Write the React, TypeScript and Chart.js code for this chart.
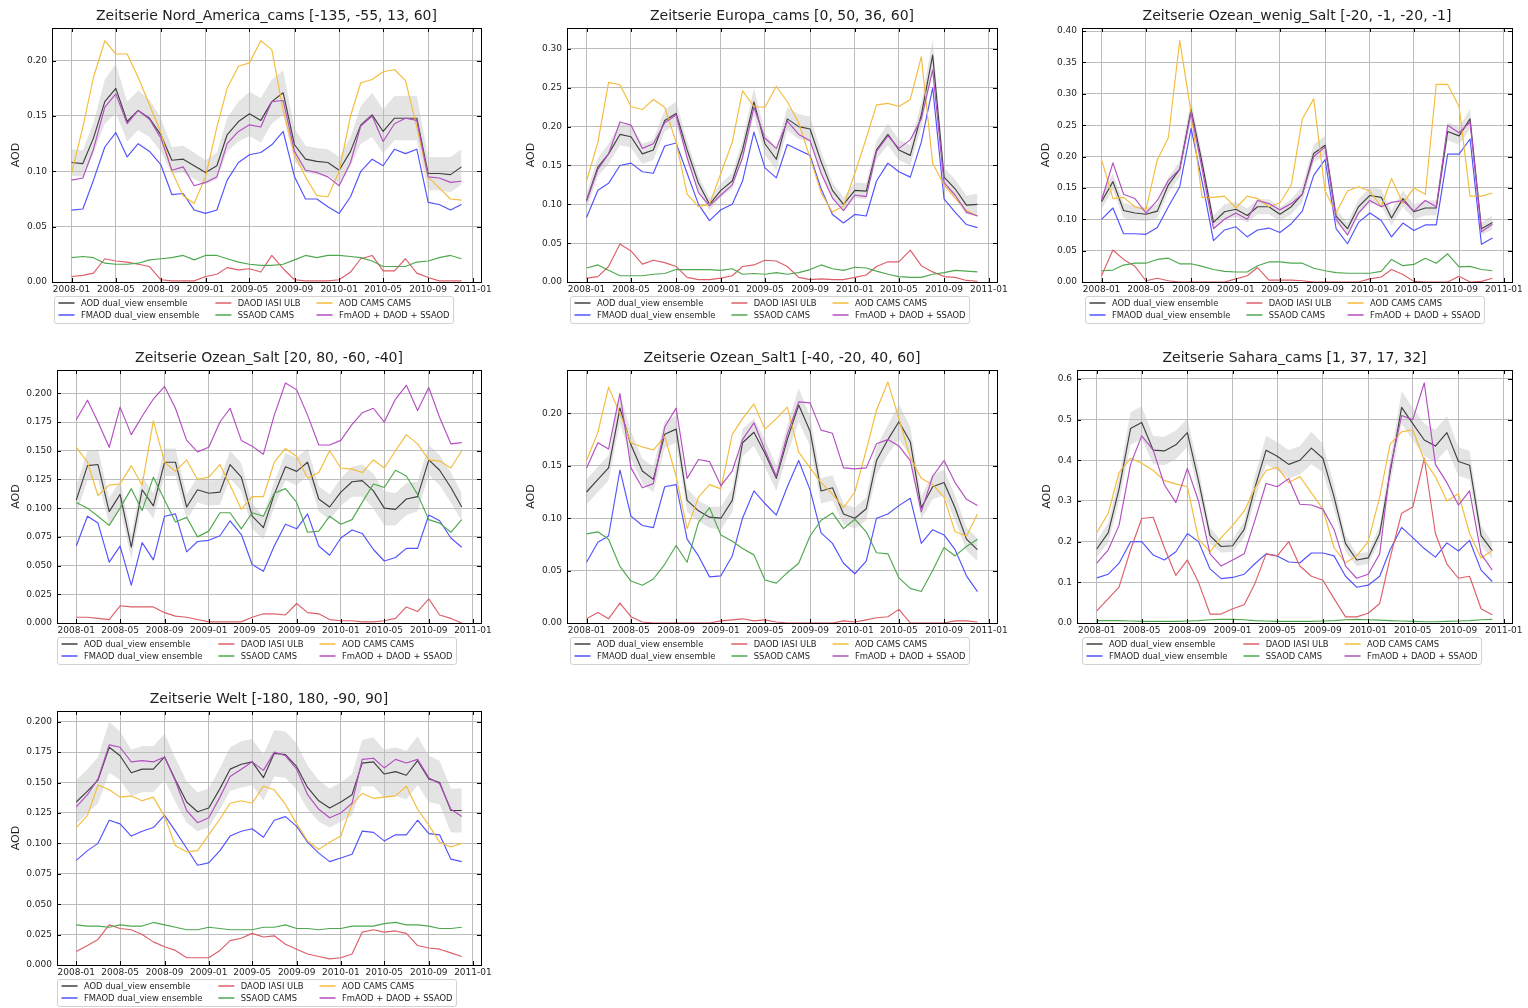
import React, { useEffect, useRef } from "react";
import { Chart, registerables } from "chart.js";

Chart.register(...registerables);
Chart.defaults.font.family = '"DejaVu Sans", sans-serif';

// ---------- categories / tick labels ----------
const months = [
  "2008-01","2008-02","2008-03","2008-04","2008-05","2008-06","2008-07","2008-08","2008-09","2008-10","2008-11","2008-12",
  "2009-01","2009-02","2009-03","2009-04","2009-05","2009-06","2009-07","2009-08","2009-09","2009-10","2009-11","2009-12",
  "2010-01","2010-02","2010-03","2010-04","2010-05","2010-06","2010-07","2010-08","2010-09","2010-10","2010-11","2010-12",
];
const xTickLabels = ["2008-01","2008-05","2008-09","2009-01","2009-05","2009-09","2010-01","2010-05","2010-09","2011-01"];
const seriesLabels = [
  "AOD dual_view ensemble",
  "FMAOD dual_view ensemble",
  "DAOD IASI ULB",
  "SSAOD CAMS",
  "AOD CAMS CAMS",
  "FmAOD + DAOD + SSAOD",
];

// ---------- Nord_America_cams ----------
const naAOD = [0.108,0.107,0.13,0.163,0.175,0.145,0.155,0.148,0.133,0.11,0.111,0.105,0.099,0.105,0.133,0.145,0.152,0.146,0.163,0.171,0.124,0.111,0.109,0.108,0.101,0.118,0.142,0.151,0.136,0.148,0.148,0.148,0.098,0.098,0.097,0.104];
const naFM = [0.065,0.066,0.092,0.122,0.135,0.113,0.125,0.118,0.106,0.079,0.08,0.065,0.062,0.065,0.092,0.108,0.115,0.117,0.124,0.136,0.095,0.075,0.075,0.068,0.062,0.077,0.1,0.111,0.105,0.12,0.116,0.12,0.072,0.07,0.065,0.07];
const naDAOD = [0.005,0.006,0.008,0.021,0.019,0.018,0.016,0.014,0.002,0.001,0.001,0.001,0.005,0.007,0.013,0.011,0.012,0.009,0.024,0.012,0.002,0.001,0.001,0.001,0.002,0.009,0.021,0.024,0.01,0.01,0.021,0.008,0.004,0.001,0.001,0.001];
const naSS = [0.022,0.023,0.022,0.017,0.016,0.016,0.017,0.02,0.021,0.022,0.024,0.02,0.024,0.024,0.021,0.018,0.016,0.015,0.015,0.016,0.02,0.024,0.022,0.024,0.024,0.023,0.022,0.019,0.014,0.014,0.014,0.018,0.019,0.022,0.024,0.021];
const naCAMS = [0.098,0.14,0.185,0.218,0.206,0.206,0.185,0.16,0.135,0.1,0.078,0.071,0.095,0.14,0.175,0.195,0.198,0.218,0.21,0.155,0.115,0.095,0.078,0.077,0.1,0.15,0.18,0.183,0.19,0.192,0.182,0.14,0.095,0.085,0.075,0.074];
const naSUM = [0.092,0.094,0.12,0.158,0.17,0.143,0.155,0.147,0.13,0.101,0.104,0.087,0.09,0.095,0.125,0.136,0.142,0.14,0.163,0.164,0.118,0.101,0.099,0.095,0.087,0.108,0.141,0.15,0.127,0.143,0.148,0.146,0.095,0.094,0.09,0.091];
const naSpread = [0.012,0.012,0.014,0.02,0.022,0.018,0.018,0.017,0.015,0.012,0.012,0.012,0.011,0.012,0.015,0.018,0.02,0.02,0.02,0.02,0.015,0.012,0.012,0.012,0.012,0.013,0.017,0.02,0.02,0.02,0.02,0.02,0.015,0.015,0.016,0.016];

// ---------- Europa_cams ----------
const euAOD = [0.105,0.148,0.165,0.19,0.187,0.165,0.17,0.208,0.217,0.17,0.127,0.1,0.118,0.13,0.17,0.232,0.178,0.158,0.21,0.2,0.197,0.155,0.118,0.1,0.118,0.117,0.17,0.19,0.17,0.163,0.215,0.292,0.135,0.12,0.099,0.1];
const euFM = [0.083,0.118,0.127,0.15,0.153,0.142,0.14,0.175,0.179,0.14,0.1,0.079,0.093,0.1,0.13,0.193,0.147,0.134,0.177,0.17,0.163,0.12,0.087,0.076,0.087,0.085,0.13,0.153,0.142,0.135,0.18,0.25,0.107,0.09,0.074,0.07];
const euDAOD = [0.005,0.007,0.02,0.049,0.04,0.023,0.028,0.025,0.02,0.006,0.003,0.003,0.005,0.008,0.02,0.022,0.028,0.027,0.02,0.006,0.003,0.004,0.003,0.003,0.006,0.009,0.02,0.026,0.026,0.041,0.021,0.013,0.007,0.006,0.002,0.001];
const euSS = [0.018,0.022,0.015,0.008,0.008,0.008,0.01,0.011,0.016,0.016,0.016,0.016,0.015,0.017,0.01,0.011,0.01,0.012,0.01,0.012,0.016,0.022,0.017,0.015,0.019,0.018,0.014,0.01,0.007,0.006,0.006,0.01,0.012,0.015,0.014,0.013];
const euCAMS = [0.13,0.18,0.257,0.254,0.226,0.222,0.235,0.225,0.18,0.113,0.097,0.1,0.14,0.18,0.246,0.226,0.225,0.252,0.232,0.205,0.16,0.115,0.09,0.098,0.14,0.185,0.228,0.23,0.226,0.235,0.29,0.153,0.125,0.108,0.092,0.085];
const euSUM = [0.104,0.145,0.165,0.206,0.202,0.172,0.178,0.205,0.215,0.16,0.115,0.098,0.112,0.125,0.16,0.225,0.185,0.172,0.207,0.19,0.182,0.14,0.108,0.092,0.112,0.11,0.168,0.188,0.172,0.183,0.21,0.273,0.128,0.112,0.09,0.085];
const euSpread = [0.01,0.012,0.013,0.014,0.014,0.013,0.013,0.014,0.015,0.012,0.01,0.008,0.009,0.01,0.012,0.018,0.014,0.014,0.015,0.016,0.016,0.013,0.01,0.009,0.01,0.01,0.012,0.014,0.013,0.013,0.016,0.02,0.012,0.012,0.012,0.014];

// ---------- Ozean_wenig_Salt ----------
const owAOD = [0.128,0.16,0.114,0.11,0.108,0.113,0.155,0.18,0.275,0.19,0.095,0.112,0.116,0.106,0.12,0.12,0.108,0.12,0.14,0.205,0.218,0.105,0.085,0.12,0.138,0.135,0.102,0.133,0.112,0.118,0.118,0.24,0.233,0.26,0.085,0.095];
const owFM = [0.1,0.118,0.077,0.077,0.076,0.087,0.12,0.152,0.245,0.16,0.066,0.083,0.088,0.072,0.083,0.086,0.079,0.093,0.113,0.17,0.195,0.085,0.061,0.095,0.11,0.098,0.072,0.094,0.082,0.091,0.091,0.204,0.204,0.228,0.06,0.07];
const owDAOD = [0.01,0.051,0.036,0.025,0.002,0.006,0.002,0,0,0,0,0,0.005,0.01,0.023,0.003,0.003,0.003,0.002,0,0,0,0,0,0.005,0.008,0.02,0.012,0.001,0,0,0,0.009,0,0.001,0.006];
const owSS = [0.018,0.019,0.027,0.03,0.03,0.036,0.038,0.029,0.029,0.025,0.02,0.017,0.016,0.016,0.026,0.032,0.032,0.03,0.03,0.022,0.018,0.015,0.014,0.014,0.014,0.017,0.036,0.026,0.028,0.038,0.03,0.045,0.024,0.025,0.02,0.018];
const owCAMS = [0.195,0.133,0.135,0.12,0.115,0.195,0.23,0.385,0.27,0.135,0.135,0.137,0.118,0.137,0.133,0.12,0.126,0.155,0.26,0.292,0.145,0.11,0.145,0.152,0.145,0.12,0.165,0.125,0.15,0.14,0.315,0.315,0.28,0.137,0.137,0.142];
const owSUM = [0.13,0.19,0.14,0.133,0.11,0.13,0.162,0.18,0.27,0.18,0.085,0.1,0.11,0.1,0.13,0.125,0.115,0.125,0.14,0.2,0.215,0.1,0.075,0.11,0.13,0.12,0.127,0.13,0.113,0.13,0.12,0.25,0.238,0.255,0.08,0.092];
const owSpread = [0.012,0.013,0.012,0.011,0.011,0.011,0.012,0.013,0.016,0.013,0.011,0.012,0.012,0.011,0.012,0.012,0.011,0.012,0.013,0.014,0.015,0.011,0.01,0.012,0.013,0.013,0.012,0.013,0.012,0.012,0.012,0.014,0.014,0.016,0.01,0.011];

// ---------- Ozean_Salt ----------
const osAOD = [0.107,0.137,0.138,0.097,0.112,0.066,0.116,0.102,0.14,0.14,0.101,0.116,0.113,0.114,0.138,0.127,0.093,0.083,0.112,0.136,0.132,0.14,0.108,0.101,0.114,0.123,0.124,0.115,0.1,0.099,0.108,0.11,0.142,0.133,0.118,0.101];
const osFM = [0.067,0.093,0.087,0.053,0.067,0.033,0.07,0.055,0.093,0.095,0.062,0.071,0.072,0.076,0.089,0.077,0.051,0.045,0.067,0.086,0.082,0.095,0.067,0.059,0.074,0.081,0.078,0.064,0.054,0.057,0.065,0.065,0.094,0.089,0.074,0.066];
const osDAOD = [0.005,0.005,0.004,0.003,0.015,0.014,0.014,0.014,0.009,0.006,0.005,0.003,0.001,0.001,0.001,0.001,0.005,0.008,0.008,0.007,0.017,0.009,0.008,0.003,0.002,0.002,0.001,0.001,0.002,0.004,0.014,0.01,0.021,0.007,0.004,0.0];
const osSS = [0.105,0.1,0.093,0.085,0.1,0.117,0.098,0.127,0.107,0.088,0.092,0.075,0.08,0.096,0.096,0.082,0.096,0.093,0.113,0.117,0.105,0.079,0.08,0.093,0.086,0.09,0.105,0.121,0.118,0.133,0.128,0.112,0.09,0.087,0.079,0.09];
const osCAMS = [0.153,0.14,0.111,0.12,0.121,0.137,0.12,0.176,0.14,0.132,0.142,0.125,0.127,0.138,0.12,0.099,0.11,0.11,0.14,0.152,0.145,0.126,0.131,0.15,0.135,0.134,0.131,0.142,0.135,0.15,0.164,0.156,0.142,0.141,0.135,0.15];
const osSUM = [0.177,0.194,0.175,0.153,0.188,0.164,0.18,0.195,0.206,0.187,0.159,0.149,0.153,0.175,0.187,0.159,0.154,0.147,0.181,0.209,0.203,0.181,0.155,0.155,0.159,0.173,0.183,0.187,0.175,0.195,0.207,0.185,0.205,0.179,0.156,0.157];
const osSpread = [0.012,0.013,0.013,0.012,0.012,0.01,0.012,0.011,0.012,0.012,0.011,0.011,0.011,0.011,0.012,0.012,0.011,0.01,0.011,0.012,0.012,0.012,0.011,0.011,0.012,0.013,0.014,0.015,0.015,0.014,0.014,0.013,0.013,0.013,0.013,0.012];

// ---------- Ozean_Salt1 ----------
const os1AOD = [0.125,0.137,0.148,0.205,0.17,0.145,0.137,0.18,0.185,0.117,0.107,0.101,0.1,0.117,0.172,0.182,0.162,0.138,0.175,0.208,0.183,0.126,0.129,0.104,0.1,0.109,0.155,0.175,0.192,0.173,0.11,0.13,0.134,0.11,0.08,0.07];
const os1FM = [0.058,0.077,0.083,0.146,0.102,0.093,0.091,0.13,0.132,0.08,0.064,0.044,0.045,0.064,0.1,0.126,0.114,0.103,0.13,0.155,0.127,0.086,0.076,0.057,0.047,0.059,0.1,0.104,0.112,0.119,0.076,0.089,0.084,0.07,0.045,0.03];
const os1DAOD = [0.004,0.01,0.004,0.019,0.006,0.001,0,0,0,0,0,0,0.002,0.003,0.004,0.002,0.003,0.001,0,0,0,0,0,0.002,0.001,0.003,0.005,0.006,0.013,0,0,0,0,0.002,0.002,0.001];
const os1SS = [0.085,0.087,0.08,0.054,0.04,0.036,0.042,0.056,0.074,0.058,0.096,0.11,0.084,0.078,0.071,0.065,0.041,0.038,0.048,0.057,0.083,0.098,0.105,0.09,0.099,0.087,0.067,0.066,0.043,0.033,0.03,0.05,0.072,0.064,0.073,0.08];
const os1CAMS = [0.155,0.182,0.225,0.2,0.172,0.168,0.165,0.178,0.14,0.09,0.12,0.132,0.128,0.18,0.195,0.209,0.185,0.195,0.206,0.163,0.148,0.134,0.123,0.11,0.125,0.165,0.203,0.23,0.195,0.158,0.138,0.132,0.12,0.087,0.083,0.104];
const os1SUM = [0.148,0.172,0.166,0.219,0.148,0.129,0.133,0.187,0.205,0.138,0.156,0.154,0.131,0.145,0.175,0.191,0.165,0.14,0.18,0.211,0.21,0.184,0.181,0.148,0.147,0.148,0.171,0.175,0.169,0.155,0.106,0.14,0.155,0.134,0.118,0.112];
const os1Spread = [0.012,0.012,0.012,0.014,0.013,0.012,0.012,0.013,0.013,0.011,0.01,0.01,0.011,0.011,0.013,0.013,0.013,0.012,0.014,0.016,0.014,0.012,0.012,0.01,0.01,0.011,0.013,0.014,0.017,0.014,0.011,0.012,0.012,0.012,0.011,0.011];

// ---------- Sahara_cams ----------
const saAOD = [0.182,0.222,0.33,0.478,0.493,0.425,0.423,0.438,0.468,0.35,0.215,0.188,0.19,0.23,0.33,0.425,0.41,0.39,0.4,0.43,0.405,0.31,0.195,0.155,0.16,0.22,0.37,0.53,0.49,0.45,0.435,0.468,0.397,0.388,0.215,0.178];
const saFM = [0.111,0.12,0.147,0.2,0.2,0.167,0.155,0.175,0.22,0.2,0.133,0.109,0.112,0.12,0.145,0.17,0.165,0.15,0.148,0.172,0.172,0.165,0.115,0.088,0.093,0.115,0.18,0.235,0.21,0.183,0.162,0.197,0.177,0.203,0.13,0.102];
const saDAOD = [0.03,0.06,0.088,0.18,0.257,0.26,0.185,0.117,0.155,0.1,0.022,0.022,0.035,0.045,0.095,0.17,0.165,0.2,0.14,0.115,0.105,0.06,0.015,0.015,0.024,0.048,0.16,0.27,0.285,0.405,0.22,0.145,0.11,0.115,0.035,0.02];
const saSS = [0.006,0.006,0.006,0.005,0.004,0.004,0.004,0.004,0.005,0.006,0.008,0.009,0.009,0.008,0.006,0.005,0.004,0.004,0.004,0.004,0.005,0.006,0.008,0.009,0.008,0.007,0.006,0.005,0.004,0.003,0.003,0.004,0.005,0.006,0.008,0.009];
const saCAMS = [0.222,0.27,0.37,0.405,0.393,0.375,0.35,0.342,0.335,0.207,0.175,0.21,0.24,0.275,0.33,0.375,0.383,0.345,0.36,0.32,0.28,0.185,0.148,0.165,0.2,0.31,0.44,0.47,0.475,0.4,0.36,0.3,0.318,0.22,0.16,0.178];
const saSUM = [0.147,0.18,0.24,0.39,0.46,0.425,0.34,0.296,0.38,0.3,0.17,0.14,0.155,0.17,0.25,0.343,0.335,0.355,0.292,0.29,0.28,0.23,0.14,0.11,0.12,0.17,0.38,0.51,0.5,0.59,0.39,0.345,0.29,0.325,0.17,0.13];
const saSpread = [0.02,0.025,0.03,0.04,0.04,0.035,0.035,0.035,0.035,0.03,0.02,0.015,0.015,0.02,0.03,0.035,0.035,0.035,0.035,0.04,0.035,0.03,0.02,0.015,0.015,0.02,0.03,0.04,0.04,0.04,0.04,0.04,0.035,0.035,0.025,0.02];

// ---------- Welt ----------
const weAOD = [0.134,0.143,0.152,0.179,0.172,0.158,0.161,0.161,0.171,0.152,0.134,0.126,0.129,0.145,0.161,0.165,0.167,0.154,0.174,0.173,0.163,0.146,0.135,0.129,0.134,0.14,0.166,0.167,0.157,0.159,0.156,0.168,0.153,0.15,0.127,0.127];
const weFM = [0.086,0.094,0.1,0.119,0.116,0.106,0.11,0.113,0.123,0.11,0.096,0.082,0.084,0.094,0.106,0.11,0.112,0.105,0.119,0.122,0.114,0.101,0.092,0.085,0.088,0.091,0.11,0.109,0.102,0.107,0.107,0.119,0.108,0.107,0.087,0.085];
const weDAOD = [0.011,0.016,0.021,0.033,0.03,0.029,0.025,0.019,0.015,0.012,0.006,0.006,0.006,0.012,0.02,0.022,0.026,0.023,0.024,0.017,0.013,0.009,0.007,0.005,0.006,0.009,0.027,0.029,0.027,0.028,0.026,0.016,0.014,0.013,0.01,0.007];
const weSS = [0.033,0.032,0.032,0.031,0.033,0.032,0.032,0.035,0.033,0.031,0.029,0.029,0.031,0.03,0.029,0.029,0.029,0.031,0.031,0.033,0.03,0.03,0.029,0.03,0.03,0.032,0.032,0.032,0.034,0.035,0.033,0.033,0.032,0.03,0.03,0.031];
const weCAMS = [0.113,0.123,0.148,0.144,0.138,0.139,0.135,0.138,0.122,0.098,0.093,0.094,0.107,0.12,0.133,0.135,0.133,0.147,0.144,0.132,0.116,0.102,0.095,0.101,0.106,0.132,0.141,0.137,0.138,0.139,0.147,0.128,0.115,0.101,0.097,0.1];
const weSUM = [0.13,0.14,0.153,0.181,0.179,0.167,0.168,0.167,0.171,0.151,0.127,0.117,0.121,0.138,0.155,0.161,0.167,0.16,0.175,0.172,0.161,0.14,0.128,0.121,0.125,0.133,0.169,0.17,0.162,0.169,0.166,0.169,0.154,0.149,0.128,0.122];
const weSpread = [0.018,0.018,0.019,0.021,0.02,0.019,0.019,0.019,0.019,0.018,0.017,0.016,0.016,0.017,0.018,0.019,0.019,0.019,0.019,0.019,0.019,0.018,0.017,0.016,0.016,0.017,0.019,0.02,0.02,0.02,0.02,0.02,0.019,0.018,0.018,0.018];

// ---------- y tick values ----------
const yTicks020 = [0, 0.05, 0.1, 0.15, 0.2];
const yTicks030 = [0, 0.05, 0.1, 0.15, 0.2, 0.25, 0.3];
const yTicks040 = [0, 0.05, 0.1, 0.15, 0.2, 0.25, 0.3, 0.35, 0.4];
const yTicks0200 = [0, 0.025, 0.05, 0.075, 0.1, 0.125, 0.15, 0.175, 0.2];
const yTicks06 = [0, 0.1, 0.2, 0.3, 0.4, 0.5, 0.6];

// ---------- styles ----------
const seriesColors = ["#404040", "#5252ff", "#dc5f69", "#4fa84f", "#f4bc3c", "#b34fc1"];
const TEXT = "#1e1e1e";
const GRID = "#bcbcbc";

type Panel = {
  title: string;
  series: number[][];
  spread: number[];
  yMax: number;
  yTicks: number[];
  dec: number;
  frame: [number, number, number, number]; // left, right, top, bottom (page px)
};

const panels: Panel[] = [
  { title: "Zeitserie Nord_America_cams [-135, -55, 13, 60]", series: [naAOD, naFM, naDAOD, naSS, naCAMS, naSUM], spread: naSpread, yMax: 0.2295, yTicks: yTicks020, dec: 2, frame: [52, 481, 28, 282] },
  { title: "Zeitserie Europa_cams [0, 50, 36, 60]", series: [euAOD, euFM, euDAOD, euSS, euCAMS, euSUM], spread: euSpread, yMax: 0.327, yTicks: yTicks030, dec: 2, frame: [567, 997, 28, 282] },
  { title: "Zeitserie Ozean_wenig_Salt [-20, -1, -20, -1]", series: [owAOD, owFM, owDAOD, owSS, owCAMS, owSUM], spread: owSpread, yMax: 0.405, yTicks: yTicks040, dec: 2, frame: [1082, 1512, 28, 282] },
  { title: "Zeitserie Ozean_Salt [20, 80, -60, -40]", series: [osAOD, osFM, osDAOD, osSS, osCAMS, osSUM], spread: osSpread, yMax: 0.2203, yTicks: yTicks0200, dec: 3, frame: [57, 481, 370, 623] },
  { title: "Zeitserie Ozean_Salt1 [-40, -20, 40, 60]", series: [os1AOD, os1FM, os1DAOD, os1SS, os1CAMS, os1SUM], spread: os1Spread, yMax: 0.2414, yTicks: yTicks020, dec: 2, frame: [567, 997, 370, 623] },
  { title: "Zeitserie Sahara_cams [1, 37, 17, 32]", series: [saAOD, saFM, saDAOD, saSS, saCAMS, saSUM], spread: saSpread, yMax: 0.622, yTicks: yTicks06, dec: 1, frame: [1077, 1512, 370, 623] },
  { title: "Zeitserie Welt [-180, 180, -90, 90]", series: [weAOD, weFM, weDAOD, weSS, weCAMS, weSUM], spread: weSpread, yMax: 0.2088, yTicks: yTicks0200, dec: 3, frame: [57, 481, 711, 965] },
];

function dayOf(label: string): number {
  const [y, m] = label.split("-").map(Number);
  return (Date.UTC(y, m - 1, 1) - Date.UTC(2008, 0, 1)) / 86400000;
}

const Y_AXIS_W = 58;
const PAD_T = 30;
const PAD_R = 14;
const X_AXIS_H = 14;
const PAD_B_TOTAL = 46;

function PanelChart({ p, idx }: { p: Panel; idx: number }) {
  const ref = useRef<HTMLCanvasElement | null>(null);
  const [L, R, T, B] = p.frame;
  const cl = L - Y_AXIS_W;
  const ct = T - PAD_T;
  const cw = R + PAD_R - cl;
  const ch = B + PAD_B_TOTAL - ct;

  useEffect(() => {
    const canvas = ref.current;
    if (!canvas) return;
    const xs = months.map(dayOf);
    const span = xs[xs.length - 1] - xs[0];
    const xMin = xs[0] - 0.05 * span;
    const xMax = xs[xs.length - 1] + 0.05 * span;
    const xTickVals = xTickLabels.map(dayOf);
    const aod = p.series[0];

    const datasets: any[] = p.series.map((vals, k) => ({
      label: seriesLabels[k],
      data: vals.map((v, i) => ({ x: xs[i], y: v })),
      borderColor: seriesColors[k],
      backgroundColor: seriesColors[k],
      borderWidth: 1.15,
      pointRadius: 0,
      pointHoverRadius: 0,
      fill: false,
      tension: 0,
      borderJoinStyle: "round",
      order: 6 - k,
    }));
    datasets.push({
      label: "band-upper",
      data: aod.map((v, i) => ({ x: xs[i], y: v + p.spread[i] })),
      borderColor: "rgba(0,0,0,0)",
      borderWidth: 0,
      pointRadius: 0,
      fill: false,
      order: 20,
    });
    datasets.push({
      label: "band-lower",
      data: aod.map((v, i) => ({ x: xs[i], y: v - p.spread[i] })),
      borderColor: "rgba(0,0,0,0)",
      backgroundColor: "rgba(190,190,190,0.42)",
      borderWidth: 0,
      pointRadius: 0,
      fill: "-1",
      order: 21,
    });

    const overlay = {
      id: "overlay" + idx,
      afterDraw(chart: any) {
        const { ctx, chartArea: a, scales } = chart;
        ctx.save();
        // inward tick marks on all sides
        ctx.strokeStyle = "#000";
        ctx.lineWidth = 1;
        ctx.beginPath();
        for (const t of scales.x.ticks) {
          const px = Math.round(scales.x.getPixelForValue(t.value)) + 0.5;
          ctx.moveTo(px, a.bottom);
          ctx.lineTo(px, a.bottom - 4);
          ctx.moveTo(px, a.top);
          ctx.lineTo(px, a.top + 4);
        }
        for (const t of scales.y.ticks) {
          const py = Math.round(scales.y.getPixelForValue(t.value)) + 0.5;
          ctx.moveTo(a.left, py);
          ctx.lineTo(a.left + 4, py);
          ctx.moveTo(a.right, py);
          ctx.lineTo(a.right - 4, py);
        }
        ctx.stroke();
        // frame
        ctx.strokeRect(Math.round(a.left) + 0.5, Math.round(a.top) + 0.5, Math.round(a.right - a.left), Math.round(a.bottom - a.top));

        // title
        ctx.fillStyle = TEXT;
        ctx.font = '14px "DejaVu Sans"';
        ctx.textAlign = "center";
        ctx.textBaseline = "middle";
        ctx.fillText(p.title, (a.left + a.right) / 2, a.top - 12);

        // y axis label
        ctx.font = '9px "DejaVu Sans"';
        let maxW = 0;
        for (const v of p.yTicks) maxW = Math.max(maxW, ctx.measureText(v.toFixed(p.dec)).width);
        ctx.save();
        ctx.translate(a.left - maxW - 15.5, (a.top + a.bottom) / 2);
        ctx.rotate(-Math.PI / 2);
        ctx.font = '11px "DejaVu Sans"';
        ctx.textAlign = "center";
        ctx.textBaseline = "middle";
        ctx.fillText("AOD", 0, 0);
        ctx.restore();

        // legend (3 columns x 2 rows, column-major)
        ctx.font = '8.4px "DejaVu Sans"';
        const cols = [[0, 1], [2, 3], [4, 5]];
        const colW = cols.map((c) => Math.max(...c.map((k) => ctx.measureText(seriesLabels[k]).width)));
        const pad = 4, hl = 16, htp = 6.4, cs = 16;
        const totalW = pad * 2 + cols.length * (hl + htp) + colW.reduce((s, w) => s + w, 0) + cs * (cols.length - 1);
        const cx = a.left + 0.47 * (a.right - a.left);
        const lx = Math.round(cx - totalW / 2) + 0.5;
        const ly = Math.round(a.bottom + 14) + 0.5;
        const lh = 27;
        ctx.beginPath();
        if (ctx.roundRect) ctx.roundRect(lx, ly, totalW, lh, 2.5);
        else ctx.rect(lx, ly, totalW, lh);
        ctx.fillStyle = "rgba(255,255,255,0.85)";
        ctx.fill();
        ctx.strokeStyle = "#d2d2d2";
        ctx.lineWidth = 1;
        ctx.stroke();
        let x = lx + pad;
        ctx.textAlign = "left";
        ctx.textBaseline = "middle";
        cols.forEach((c, ci) => {
          c.forEach((k, ri) => {
            const y = ly + 6.5 + ri * 12.3;
            ctx.strokeStyle = seriesColors[k];
            ctx.lineWidth = 1.5;
            ctx.beginPath();
            ctx.moveTo(x, Math.round(y));
            ctx.lineTo(x + hl, Math.round(y));
            ctx.stroke();
            ctx.fillStyle = TEXT;
            ctx.fillText(seriesLabels[k], x + hl + htp, y + 0.5);
          });
          x += hl + htp + colW[ci] + cs;
        });
        ctx.restore();
      },
    };

    const chart = new Chart(canvas, {
      type: "line",
      data: { datasets },
      options: {
        responsive: false,
        maintainAspectRatio: false,
        animation: false,
        devicePixelRatio: 1,
        events: [],
        layout: { padding: { left: 0, top: PAD_T, right: PAD_R, bottom: PAD_B_TOTAL - X_AXIS_H } },
        plugins: { legend: { display: false }, title: { display: false }, tooltip: { enabled: false } },
        scales: {
          x: {
            type: "linear",
            min: xMin,
            max: xMax,
            afterBuildTicks: (s: any) => {
              s.ticks = xTickVals.map((v) => ({ value: v }));
            },
            afterFit: (s: any) => {
              s.height = X_AXIS_H;
              s.paddingLeft = 0;
              s.paddingRight = 0;
            },
            ticks: {
              autoSkip: false,
              maxRotation: 0,
              minRotation: 0,
              padding: 2,
              color: TEXT,
              font: { size: 9, family: '"DejaVu Sans"' },
              callback: (v: any) => {
                const i = xTickVals.indexOf(Number(v));
                return i >= 0 ? xTickLabels[i] : "";
              },
            },
            grid: { color: GRID, lineWidth: 1, drawTicks: false },
            border: { display: false },
          },
          y: {
            type: "linear",
            min: 0,
            max: p.yMax,
            afterBuildTicks: (s: any) => {
              s.ticks = p.yTicks.map((v) => ({ value: v }));
            },
            afterFit: (s: any) => {
              s.width = Y_AXIS_W;
              s.paddingTop = 0;
              s.paddingBottom = 0;
            },
            ticks: {
              padding: 5,
              color: TEXT,
              font: { size: 9, family: '"DejaVu Sans"' },
              callback: (v: any) => Number(v).toFixed(p.dec),
            },
            grid: { color: GRID, lineWidth: 1, drawTicks: false },
            border: { display: false },
          },
        },
      } as any,
      plugins: [overlay],
    });
    return () => chart.destroy();
  }, [p, idx]);

  return (
    <canvas
      ref={ref}
      width={cw}
      height={ch}
      style={{ position: "absolute", left: cl, top: ct, width: cw, height: ch }}
    />
  );
}

export default function App() {
  return (
    <div
      style={{
        position: "absolute",
        left: 0,
        top: 0,
        width: 1528,
        height: 1008,
        background: "#ffffff",
        overflow: "hidden",
      }}
    >
      {panels.map((p, i) => (
        <PanelChart key={i} p={p} idx={i} />
      ))}
    </div>
  );
}
